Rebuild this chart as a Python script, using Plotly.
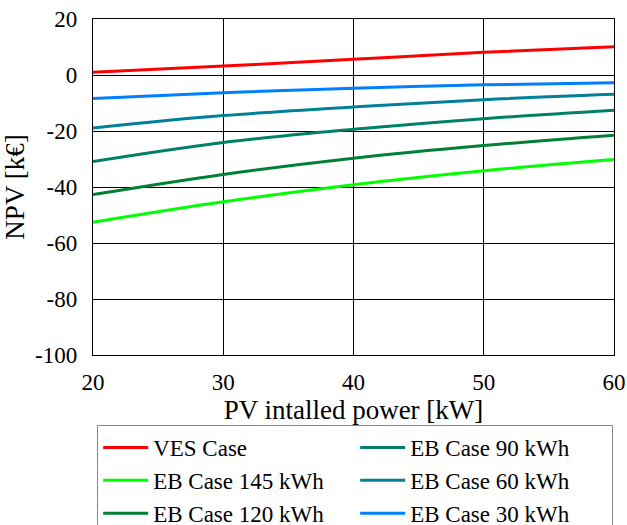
import plotly.graph_objects as go

pv_power = [20, 30, 40, 50, 60]
ves_case = [1.0, 3.2, 5.6, 8.1, 10.1]
eb_145 = [-52.6, -45.3, -39.2, -34.2, -30.2]
eb_120 = [-42.7, -35.5, -29.7, -25.2, -21.5]
eb_90 = [-30.9, -24.1, -19.4, -15.6, -12.6]
eb_60 = [-18.9, -14.5, -11.4, -8.8, -6.9]
eb_30 = [-8.4, -6.3, -4.7, -3.5, -2.8]

y_ticks = [-100, -80, -60, -40, -20, 0, 20]
y_ticktext = ["-100", "-80", "-60", "-40", "-20", "0", "20"]
x_ticks = [20, 30, 40, 50, 60]

# order chosen so the 2-column horizontal legend reads like the reference
series = [
    ("VES Case", ves_case, "#FF0000"),
    ("EB Case 90 kWh", eb_90, "#008066"),
    ("EB Case 145 kWh", eb_145, "#00FF00"),
    ("EB Case 60 kWh", eb_60, "#008099"),
    ("EB Case 120 kWh", eb_120, "#008033"),
    ("EB Case 30 kWh", eb_30, "#0080FF"),
]

fig = go.Figure()
for name, vals, col in series:
    fig.add_trace(go.Scatter(x=pv_power, y=vals, mode="lines", name=name,
                             line=dict(color=col, width=3, shape="spline")))

serif = "Liberation Serif"
fig.update_layout(
    width=627, height=525,
    margin=dict(l=93, r=13, t=19, b=170, autoexpand=False),
    paper_bgcolor="white", plot_bgcolor="white",
    font=dict(family=serif, color="black", size=22),
    showlegend=True,
    legend=dict(orientation="h", xref="paper", x=0.008, xanchor="left",
                yref="container", y=1 - 425 / 525, yanchor="top",
                bordercolor="#888888", borderwidth=1, font=dict(size=23, family=serif),
                entrywidth=197, entrywidthmode="pixels", itemwidth=45,
                traceorder="normal"),
    xaxis=dict(range=[20, 60], tickvals=x_ticks, ticktext=[str(v) for v in x_ticks],
               automargin=False, ticklabeloverflow="allow",
               showgrid=True, gridcolor="black", gridwidth=1,
               showline=True, linecolor="black", linewidth=1.3, mirror=True,
               zeroline=False, ticks="", ticklabelstandoff=6,
               tickfont=dict(size=23, family=serif),
               title=dict(text="PV intalled power [kW]", font=dict(size=27, family=serif), standoff=10)),
    yaxis=dict(range=[-100, 20], tickvals=y_ticks, ticktext=y_ticktext,
               automargin=False, ticklabeloverflow="allow",
               showgrid=True, gridcolor="black", gridwidth=1,
               showline=True, linecolor="black", linewidth=1.3, mirror=True,
               zeroline=False, ticks="", ticklabelstandoff=10,
               tickfont=dict(size=23, family=serif),
               title=dict(text="NPV [k€]", font=dict(size=27, family=serif), standoff=3)),
)
fig.write_html("out.html", config={"displayModeBar": False},
               post_script="document.body.style.margin='0';document.body.style.overflow='hidden';")
